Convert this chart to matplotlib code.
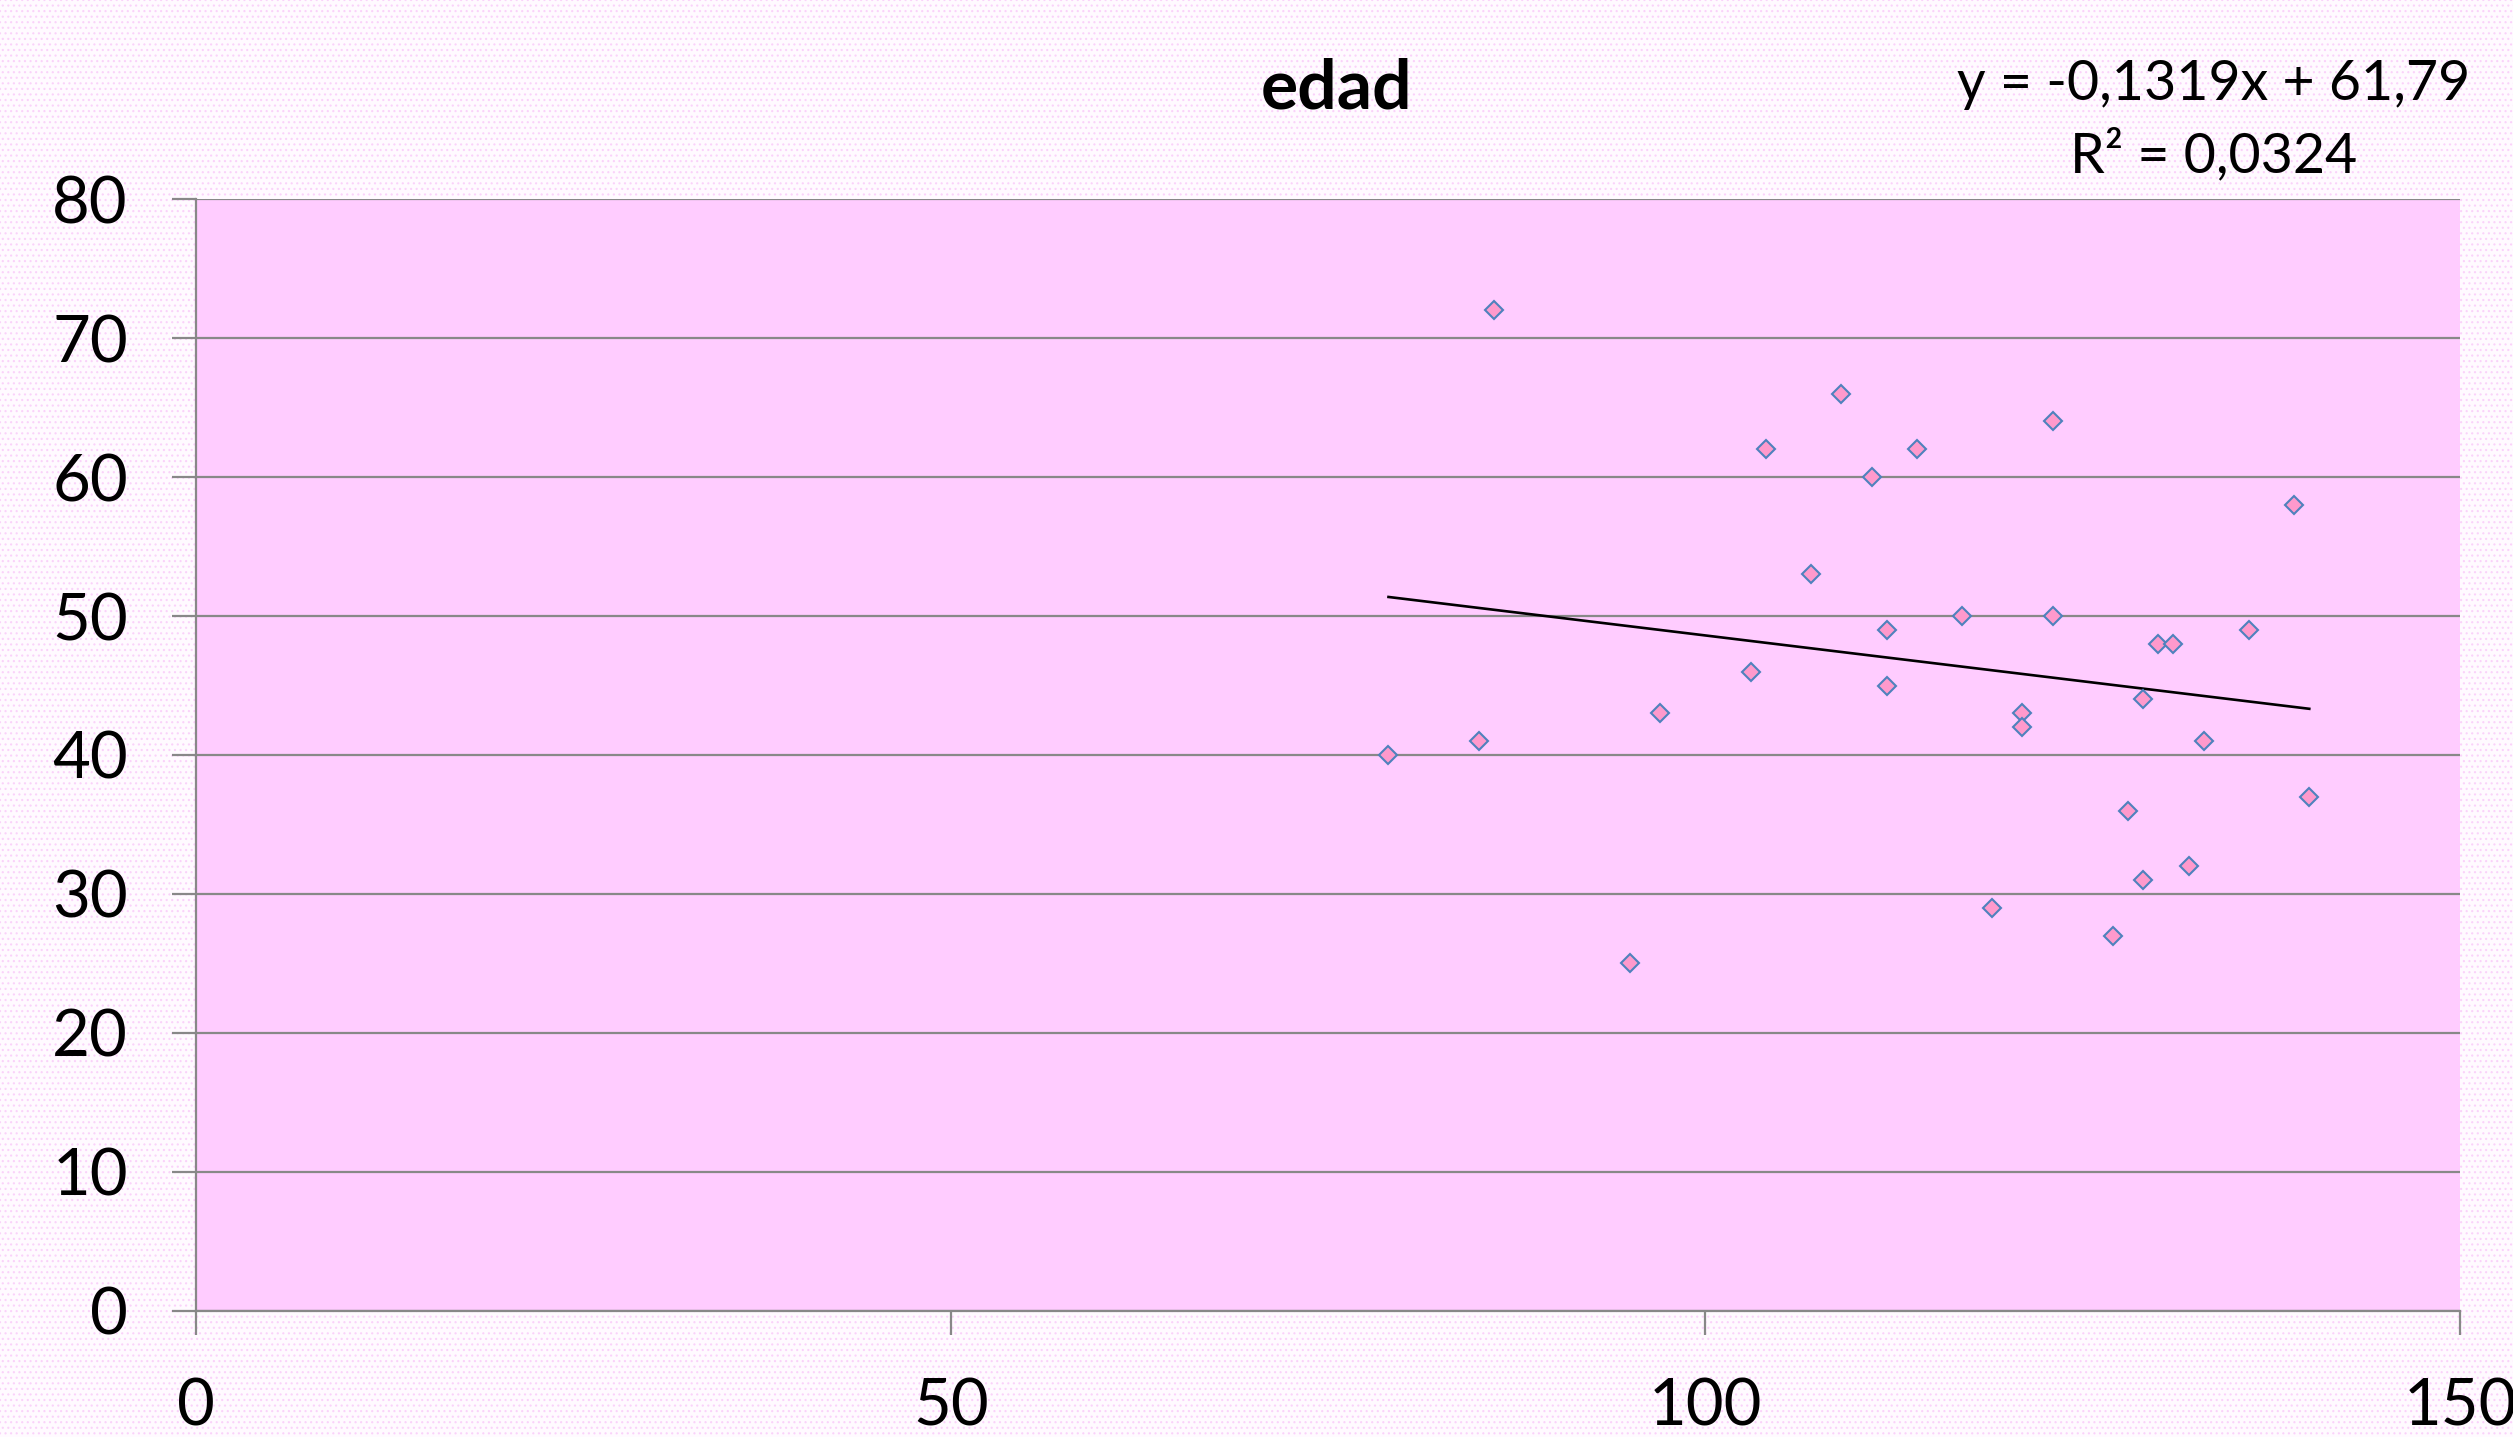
import matplotlib
matplotlib.use("Agg")
import matplotlib.pyplot as plt
from matplotlib.patches import Rectangle
import numpy as np

plt.rcParams['font.family'] = ['Lato', 'DejaVu Sans']
plt.rcParams['hatch.linewidth'] = 0.8

# datos
x_vals = [79, 85, 86, 95, 97, 103, 104, 107, 109, 111, 112, 112, 114, 117, 119,
          121, 121, 123, 123, 127, 128, 129, 129, 130, 131, 132, 133, 136, 139, 140]
edad = [40, 41, 72, 25, 43, 46, 62, 53, 66, 60, 49, 45, 62, 50, 29,
        43, 42, 64, 50, 27, 36, 44, 31, 48, 48, 32, 41, 49, 58, 37]
slope = -0.1319
intercept = 61.79
r2 = 0.0324
title = "edad"

fig = plt.figure(figsize=(25.13, 14.37), dpi=100)
fig.patch.set_facecolor('#FFFAFF')
# fondo con textura suave
fig.patches.append(Rectangle((0, 0), 1, 1, transform=fig.transFigure,
                             facecolor='#FFFAFF', edgecolor='#FAD2FA',
                             hatch='...', lw=0, zorder=-10))
ax = fig.add_axes([0.078, 0.0877, 0.901, 0.7738])
ax.set_facecolor('#FFCCFF')

# linea de tendencia
xt = np.array([min(x_vals), max(x_vals)])
ax.plot(xt, slope * xt + intercept, color='black', lw=1.9, zorder=3)

ax.plot(x_vals, edad, linestyle='none', marker='D', markersize=9.0,
        markerfacecolor='#FF99CC', markeredgecolor='#4F81BD',
        markeredgewidth=1.5, zorder=4)

ax.set_xlim(0, 150)
ax.set_ylim(0, 80)
ax.set_xticks([0, 50, 100, 150])
ax.set_yticks(range(0, 81, 10))
ax.yaxis.grid(True, color='#888888', lw=1.6)
ax.set_axisbelow(True)
for s in ['top', 'right']:
    ax.spines[s].set_visible(False)
for s in ['left', 'bottom']:
    ax.spines[s].set_color('#888888')
    ax.spines[s].set_linewidth(1.6)
ax.tick_params(axis='both', direction='out', length=17, width=1.6,
               color='#888888', labelsize=47)
ax.tick_params(axis='y', pad=32)
ax.tick_params(axis='x', pad=31)

fig.text(0.532, 0.938, title, ha='center', va='center', fontsize=50,
         fontweight='bold')
eq = "y = -0,1319x + 61,79\nR² = 0,0324"
fig.text(0.881, 0.916, eq, ha='center', va='center', fontsize=40,
         linespacing=1.45)

fig.savefig('out.png', dpi=100, facecolor=fig.get_facecolor())
